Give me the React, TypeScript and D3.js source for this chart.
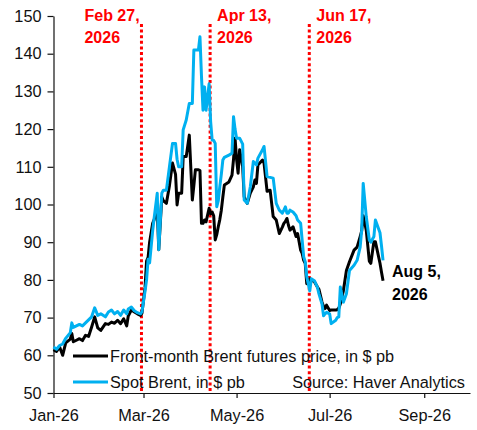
import React, { useEffect, useRef } from 'react'
import * as d3 from 'd3'

const dates = [
  '2026-01-01', '2026-01-03', '2026-01-05', '2026-01-07', '2026-01-09', '2026-01-12', '2026-01-13', '2026-01-14',
  '2026-01-16', '2026-01-18', '2026-01-20', '2026-01-22', '2026-01-24', '2026-01-26', '2026-01-28', '2026-01-30',
  '2026-02-01', '2026-02-04', '2026-02-06', '2026-02-08', '2026-02-10', '2026-02-12', '2026-02-14', '2026-02-16',
  '2026-02-18', '2026-02-19', '2026-02-21', '2026-02-23', '2026-02-25', '2026-02-27', '2026-02-28',
  '2026-03-02', '2026-03-03', '2026-03-04', '2026-03-05', '2026-03-07', '2026-03-08', '2026-03-10', '2026-03-11',
  '2026-03-13', '2026-03-14', '2026-03-16', '2026-03-18', '2026-03-20', '2026-03-22', '2026-03-23', '2026-03-24',
  '2026-03-26', '2026-03-27', '2026-03-29', '2026-03-31',
  '2026-04-02', '2026-04-03', '2026-04-04', '2026-04-06', '2026-04-07', '2026-04-08', '2026-04-09', '2026-04-10',
  '2026-04-11', '2026-04-13', '2026-04-14', '2026-04-15', '2026-04-16', '2026-04-17', '2026-04-18', '2026-04-19',
  '2026-04-20', '2026-04-21', '2026-04-22', '2026-04-23', '2026-04-26', '2026-04-28', '2026-04-29', '2026-04-30',
  '2026-05-01', '2026-05-02', '2026-05-03', '2026-05-05', '2026-05-06', '2026-05-08', '2026-05-10', '2026-05-12',
  '2026-05-13', '2026-05-14', '2026-05-15', '2026-05-18', '2026-05-19', '2026-05-21', '2026-05-23', '2026-05-25',
  '2026-05-27', '2026-05-29', '2026-05-31',
  '2026-06-01', '2026-06-02', '2026-06-03', '2026-06-04', '2026-06-05', '2026-06-07', '2026-06-09', '2026-06-10',
  '2026-06-12', '2026-06-13', '2026-06-14', '2026-06-15', '2026-06-16', '2026-06-18', '2026-06-19', '2026-06-21',
  '2026-06-23', '2026-06-24', '2026-06-26', '2026-06-27', '2026-06-28', '2026-06-29',
  '2026-07-01', '2026-07-02', '2026-07-05', '2026-07-06', '2026-07-07', '2026-07-08', '2026-07-10', '2026-07-12',
  '2026-07-14', '2026-07-17', '2026-07-19', '2026-07-21', '2026-07-22', '2026-07-23', '2026-07-25', '2026-07-27',
  '2026-07-28', '2026-07-30', '2026-07-31', '2026-08-03', '2026-08-04', '2026-08-05',
]

const futures = [
  61.5, 61.0, 62.2, 60.0, 63.3, 64.3, 65.8, 63.6,
  64.0, 64.4, 63.9, 65.3, 65.0, 67.5, 70.2, 67.3,
  66.6, 68.4, 68.2, 68.8, 68.5, 69.3, 68.4, 69.7,
  67.8, 70.4, 72.0, 71.5, 71.0, 70.6, 71.2,
  78.0, 85.0, 86.0, 90.0, 95.0, 96.0, 99.0, 88.0,
  102.0, 101.0, 100.3, 105.0, 111.0, 108.0, 99.9, 103.0,
  103.0, 112.7, 112.7, 118.4,
  101.2, 105.0, 109.2, 109.2, 109.0, 95.0, 95.0, 95.9,
  95.4, 99.0, 97.5, 98.0, 97.0, 90.6, 92.0, 94.1,
  96.0, 98.5, 102.0, 105.2, 106.0, 107.8, 112.0, 117.6,
  112.0, 108.3, 114.5, 110.0, 102.0, 100.3, 103.0, 104.7,
  106.5, 105.6, 110.5, 111.8, 111.0, 103.5, 103.8, 96.8,
  95.9, 92.3, 94.0,
  95.0, 95.5, 96.3, 94.5, 93.2, 94.1, 91.5, 92.3,
  87.9, 87.0, 85.2, 84.4, 79.0, 80.3, 80.0, 79.5,
  78.1, 77.5, 74.1, 73.0, 72.4, 73.3,
  71.9, 72.0, 72.0, 72.1, 72.5, 73.6, 77.1, 82.5,
  84.8, 87.9, 88.7, 91.5, 93.0, 97.0, 93.2, 85.0,
  84.4, 90.1, 90.1, 84.4, 82.0, 79.8,
]

const spot = [
  62.2, 61.6, 62.6, 63.0, 64.5, 66.0, 68.6, 67.4,
  67.8, 68.2, 67.8, 68.6, 69.4, 70.2, 72.6, 70.6,
  71.0, 70.2, 71.5, 72.0, 71.0, 71.6, 70.6, 72.0,
  71.0, 72.3, 72.8, 71.8, 71.3, 71.0, 71.6,
  77.0, 80.0, 85.5, 84.5, 93.0, 96.5, 103.0, 88.0,
  103.0, 103.8, 103.8, 110.0, 116.2, 116.2, 112.0, 110.0,
  110.0, 119.8, 122.4, 126.8,
  126.8, 141.0, 141.0, 141.0, 144.5, 134.0, 125.0, 131.2,
  125.0, 132.0, 122.0, 117.1, 117.0, 116.2, 99.4, 101.0,
  104.7, 108.0, 111.8, 112.5, 113.1, 113.6, 123.3, 120.0,
  117.6, 117.6, 117.6, 116.0, 101.2, 100.3, 104.7, 111.4,
  111.0, 110.5, 112.3, 114.5, 115.4, 107.4, 107.2, 107.0,
  100.3, 98.5, 97.7,
  98.5, 99.4, 97.7, 97.7, 98.5, 98.0, 97.0, 95.9,
  95.0, 90.5, 86.1, 84.8, 80.8, 77.1, 80.3, 79.8,
  78.0, 76.3, 73.6, 70.5, 71.0, 71.4,
  71.0, 68.4, 69.3, 70.0, 70.2, 78.1, 74.1, 76.3,
  82.5, 83.9, 85.2, 88.7, 93.2, 105.6, 96.8, 90.6,
  90.0, 91.5, 95.9, 92.5, 89.0, 85.2,
]

const yTicks = [50, 60, 70, 80, 90, 100, 110, 120, 130, 140, 150]
const xTicks = ['2026-01-01', '2026-03-01', '2026-05-01', '2026-07-01', '2026-09-01']
const eventDates = ['2026-02-27', '2026-04-13', '2026-06-17']
const eventLabels = [['Feb 27,', '2026'], ['Apr 13,', '2026'], ['Jun 17,', '2026']]
const seriesNames = ['Front-month Brent futures price, in $ pb', 'Spot Brent, in $ pb']
const seriesColors = ['#000000', '#00b0f0']

const W = 477
const H = 430
const FONT = '"Liberation Sans", Arial, sans-serif'

export default function App() {
  const ref = useRef<SVGSVGElement>(null)

  useEffect(() => {
    const svg = d3.select(ref.current)
    svg.selectAll('*').remove()

    const parse = d3.utcParse('%Y-%m-%d')
    const x = d3.scaleUtc()
      .domain([parse('2026-01-01')!, parse('2026-10-01')!])
      .range([53.5, 470])
    const y = d3.scaleLinear().domain([50, 150]).range([393, 16])

    // event markers
    eventDates.forEach((d, i) => {
      const px = x(parse(d)!) + 1
      svg.append('line')
        .attr('x1', px).attr('x2', px)
        .attr('y1', 24).attr('y2', y(50))
        .attr('stroke', '#ff0000')
        .attr('stroke-width', 3)
        .attr('stroke-dasharray', '3,2.6')
      const tx = i === 0 ? px - 57 : px + 7
      eventLabels[i].forEach((t, j) => {
        svg.append('text')
          .attr('x', tx).attr('y', 21 + j * 22)
          .attr('fill', '#ff0000')
          .attr('font-family', FONT)
          .attr('font-weight', 'bold')
          .attr('font-size', 16)
          .text(t)
      })
    })

    // legend + source (sits under the lines)
    seriesNames.forEach((name, i) => {
      const ly = 356 + i * 26
      svg.append('line')
        .attr('x1', 73).attr('x2', 108)
        .attr('y1', ly).attr('y2', ly)
        .attr('stroke', seriesColors[i])
        .attr('stroke-width', 3)
      svg.append('text')
        .attr('x', 110).attr('y', ly + 6)
        .attr('font-family', FONT)
        .attr('font-size', 16.3)
        .attr('fill', '#111')
        .text(name)
    })
    svg.append('text')
      .attr('x', 465).attr('y', 388)
      .attr('text-anchor', 'end')
      .attr('font-family', FONT)
      .attr('font-size', 16.3)
      .attr('fill', '#111')
      .text('Source: Haver Analytics')

    // axes
    const yAxis = svg.append('g')
      .attr('transform', `translate(${x.range()[0]},0)`)
      .call(d3.axisLeft(y).tickValues(yTicks).tickSize(6).tickSizeOuter(0).tickPadding(6))
    const xAxis = svg.append('g')
      .attr('transform', `translate(0,${y(50)})`)
      .call(d3.axisBottom(x)
        .tickValues(xTicks.map(d => parse(d)!))
        .tickFormat(d => d3.utcFormat('%b-%y')(d as Date))
        .tickSize(5).tickSizeOuter(0).tickPadding(11))
    for (const g of [yAxis, xAxis]) {
      g.selectAll('text')
        .attr('font-family', FONT)
        .attr('font-size', 16.3)
        .attr('fill', '#111')
      g.selectAll('path,line').attr('stroke', '#111').attr('stroke-width', 1.2)
    }

    // series, spot drawn last so it sits on top
    const line = d3.line<number>()
      .x((_, i) => x(parse(dates[i])!))
      .y(v => y(v))
    ;[futures, spot].forEach((vals, i) => {
      svg.append('path')
        .datum(vals)
        .attr('d', line)
        .attr('fill', 'none')
        .attr('stroke', seriesColors[i])
        .attr('stroke-width', 3)
        .attr('stroke-linejoin', 'round')
    })

    // end label
    ;['Aug 5,', '2026'].forEach((t, j) => {
      svg.append('text')
        .attr('x', 392).attr('y', 277 + j * 23)
        .attr('font-family', FONT)
        .attr('font-weight', 'bold')
        .attr('font-size', 16)
        .attr('fill', '#000')
        .text(t)
    })
  }, [])

  return (
    <svg
      ref={ref}
      width={W}
      height={H}
      style={{ position: 'absolute', left: 0, top: 0, background: '#fff' }}
    />
  )
}
